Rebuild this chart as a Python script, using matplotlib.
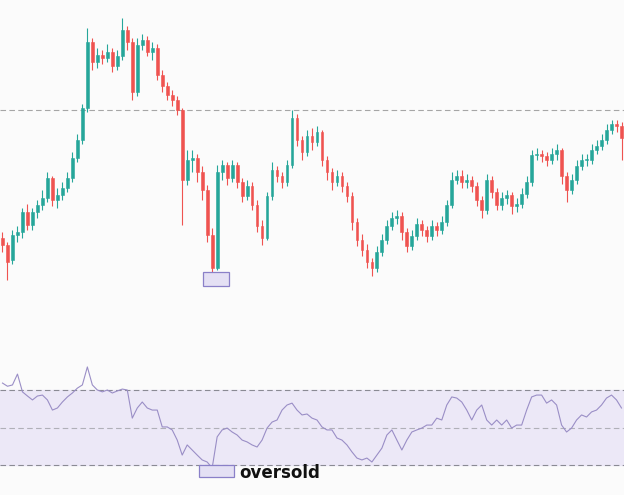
import matplotlib
matplotlib.use("Agg")
import matplotlib.pyplot as plt
from matplotlib.patches import Rectangle
import numpy as np

# ---- data (price units, arbitrary scale) ----
opens = [62,55,40,65,68,88,75,88,95,102,122,100,105,112,122,142,160,192,258,238,
         245,242,248,234,244,270,258,208,255,260,248,252,225,214,205,200,190,120,140,142,
         128,110,65,32,128,135,122,135,118,104,114,95,74,62,104,130,124,118,135,182,
         160,148,164,158,168,140,128,118,124,114,104,78,60,50,38,32,48,60,74,82,
         84,68,54,64,76,70,64,74,70,78,95,120,124,118,120,114,100,90,120,108,
         95,102,105,94,96,106,118,145,146,144,140,146,150,124,110,120,134,140,140,150,
         154,160,170,176,174]
closes = [55,38,65,68,88,75,88,95,102,122,100,105,112,122,142,160,192,258,238,245,
          242,248,234,244,270,258,208,255,260,248,252,225,214,205,200,190,120,140,142,128,
          110,65,32,128,135,122,135,118,104,114,95,74,62,104,130,124,118,135,182,160,
          148,164,158,168,140,128,118,124,114,104,78,60,50,38,32,48,60,74,82,84,
          68,54,64,76,70,64,74,70,78,95,120,124,118,120,114,100,90,120,108,95,
          102,105,94,96,106,118,145,146,144,140,146,150,124,110,120,134,140,140,150,154,
          160,170,176,174,162]
highs = [68,58,70,74,92,96,92,100,110,128,124,112,118,128,148,166,196,272,262,252,
         250,256,252,250,282,274,262,262,266,264,258,256,230,218,210,204,192,150,150,146,
         134,115,72,135,140,138,140,138,122,120,118,100,80,108,138,134,128,140,190,186,
         164,170,172,174,170,144,132,130,128,118,108,82,66,56,42,54,66,80,88,90,
         88,72,70,82,80,74,80,78,84,100,128,130,130,126,124,118,104,126,124,112,
         108,110,108,102,112,124,150,152,150,148,152,156,152,128,126,140,146,146,156,160,
         166,176,180,180,178]
lows = [48,20,36,58,62,70,70,82,90,98,94,92,100,108,118,138,156,188,230,232,
        236,238,228,230,240,250,200,204,250,244,240,220,208,200,194,185,75,115,128,118,
        100,58,28,30,120,115,118,112,98,100,90,68,55,60,100,118,112,114,132,154,
        140,144,150,154,134,120,110,114,108,98,70,54,44,32,24,28,44,56,70,76,
        60,48,50,60,64,58,60,64,66,74,92,116,112,112,108,94,82,86,102,90,
        90,96,86,88,92,102,114,140,138,134,136,140,116,98,106,116,130,134,136,146,
        150,156,166,168,140]
rsi = [73.7,72,72.7,78.5,69,66.8,64.7,66.8,67.3,64.7,59.3,60.4,63.6,66.3,68.4,71,72.7,82.3,72.7,70,
       69,70,68.4,69.5,70.5,70,55,60.4,63.6,60.4,59.3,59.3,50.3,50.3,48.7,43.3,35.3,40.7,38,35.3,
       32.7,31.6,28.4,45,48.7,49.7,47.6,46,43.3,42.3,40.7,39.6,43.3,49.7,52.9,54,59.3,62,63,59.3,
       56.7,57.2,55,54,50.3,48.7,48.7,44.4,43.3,40.7,37,33.7,32.7,33.7,31.6,35.3,39,46,48.7,43.3,
       38,43.3,47.6,48.7,49.7,51.3,51.3,55,54,62,66.3,65.7,63.6,59.3,54,59.3,62,54,51.3,54,
       51.3,54,49.7,51.3,51.3,59.3,66.3,67.3,67.3,63,64.7,62,51.3,47.6,49.7,54,56.7,55.6,58.3,59.3,
       62,65.7,67.3,64.7,60.4]
resistance_level = 190
rsi_levels = [70, 50, 30]
annotation = "oversold"

UP = "#26a69a"
DOWN = "#ef5350"

fig = plt.figure(figsize=(6.24, 4.95), dpi=100, facecolor="#fbfbfb")
ax = fig.add_axes([0, 1 - 300 / 495, 1, 300 / 495])
ax2 = fig.add_axes([0, 0, 1, 155 / 495])
for a in (ax, ax2):
    a.set_facecolor("#fbfbfb")
    a.axis("off")

n = len(closes)
x = np.arange(n)
for i in range(n):
    o, c, h, l = opens[i], closes[i], highs[i], lows[i]
    col = UP if c >= o else DOWN
    ax.vlines(x[i], l, h, color=col, linewidth=0.8, zorder=2)
    ax.add_patch(Rectangle((x[i] - 0.28, min(o, c)), 0.56, max(abs(c - o), 0.8),
                           facecolor=col, edgecolor=col, linewidth=0.4, zorder=3))
ax.axhline(resistance_level, color="#a6a6a6", linestyle=(0, (5, 3)), linewidth=0.8, zorder=1)
ax.add_patch(Rectangle((40.2, 14), 5.2, 14, facecolor="#e4e0f4", edgecolor="#8a80c8",
                       linewidth=0.9, zorder=4))
ax.set_xlim(-0.5, n - 0.5)
ax.set_ylim(0, 300)

# RSI panel
ax2.axhspan(rsi_levels[2], rsi_levels[0], color="#ece8f7", zorder=0)
ax2.axhline(rsi_levels[0], color="#8a8a94", linestyle=(0, (5, 3)), linewidth=0.8)
ax2.axhline(rsi_levels[1], color="#b0b0b8", linestyle=(0, (5, 3)), linewidth=0.8)
ax2.axhline(rsi_levels[2], color="#8a8a94", linestyle=(0, (5, 3)), linewidth=0.8)
ax2.plot(x, rsi, color="#9a8ec6", linewidth=0.8, zorder=3)
ax2.add_patch(Rectangle((39.4, 23.6), 7.0, 6.4, facecolor="#e4e0f4", edgecolor="#8a80c8",
                        linewidth=0.9, zorder=4))
ax2.text(47.4, 25.5, annotation, fontsize=12, fontweight="bold", color="#111111",
         va="center", ha="left", zorder=5)
ax2.set_xlim(-0.5, n - 0.5)
ax2.set_ylim(14, 96.67)

fig.savefig("out.png", dpi=100, facecolor=fig.get_facecolor())
